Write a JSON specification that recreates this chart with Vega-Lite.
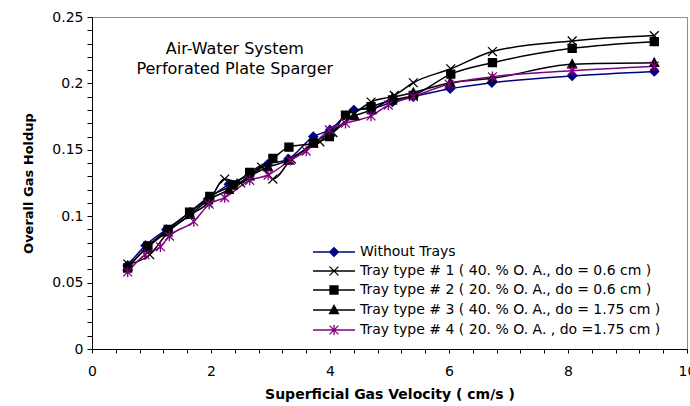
{
  "$schema": "https://vega.github.io/schema/vega-lite/v6.json",
  "width": 595,
  "height": 332,
  "autosize": {"type": "none"},
  "padding": {"left": 92, "top": 17, "right": 3, "bottom": 57},
  "background": "white",
  "config": {
    "view": {"stroke": "#8c8c8c", "strokeWidth": 1},
    "font": "DejaVu Sans",
    "axis": {"grid": false, "domainColor": "black", "tickColor": "black", "labelColor": "black", "titleColor": "black"}
  },
  "datasets": {
    "holdup": [
      {"series": "Without Trays", "v": 0.6, "g": 0.063},
      {"series": "Without Trays", "v": 0.9, "g": 0.078},
      {"series": "Without Trays", "v": 1.25, "g": 0.09},
      {"series": "Without Trays", "v": 1.65, "g": 0.103},
      {"series": "Without Trays", "v": 1.95, "g": 0.113},
      {"series": "Without Trays", "v": 2.3, "g": 0.124},
      {"series": "Without Trays", "v": 2.65, "g": 0.131},
      {"series": "Without Trays", "v": 2.95, "g": 0.139},
      {"series": "Without Trays", "v": 3.3, "g": 0.143},
      {"series": "Without Trays", "v": 3.72, "g": 0.16},
      {"series": "Without Trays", "v": 4.0, "g": 0.165},
      {"series": "Without Trays", "v": 4.4, "g": 0.18},
      {"series": "Without Trays", "v": 4.7, "g": 0.181},
      {"series": "Without Trays", "v": 5.05, "g": 0.186},
      {"series": "Without Trays", "v": 5.4, "g": 0.19},
      {"series": "Without Trays", "v": 6.02, "g": 0.196},
      {"series": "Without Trays", "v": 6.72, "g": 0.2005},
      {"series": "Without Trays", "v": 8.07, "g": 0.2056},
      {"series": "Without Trays", "v": 9.45, "g": 0.209},
      {"series": "Tray type # 1 ( 40. % O. A., do = 0.6 cm )", "v": 0.6, "g": 0.064},
      {"series": "Tray type # 1 ( 40. % O. A., do = 0.6 cm )", "v": 0.97, "g": 0.071},
      {"series": "Tray type # 1 ( 40. % O. A., do = 0.6 cm )", "v": 1.28, "g": 0.088},
      {"series": "Tray type # 1 ( 40. % O. A., do = 0.6 cm )", "v": 1.65, "g": 0.101},
      {"series": "Tray type # 1 ( 40. % O. A., do = 0.6 cm )", "v": 1.95, "g": 0.11},
      {"series": "Tray type # 1 ( 40. % O. A., do = 0.6 cm )", "v": 2.23, "g": 0.128},
      {"series": "Tray type # 1 ( 40. % O. A., do = 0.6 cm )", "v": 2.5, "g": 0.125},
      {"series": "Tray type # 1 ( 40. % O. A., do = 0.6 cm )", "v": 2.85, "g": 0.137},
      {"series": "Tray type # 1 ( 40. % O. A., do = 0.6 cm )", "v": 3.04, "g": 0.128},
      {"series": "Tray type # 1 ( 40. % O. A., do = 0.6 cm )", "v": 3.35, "g": 0.143},
      {"series": "Tray type # 1 ( 40. % O. A., do = 0.6 cm )", "v": 3.83, "g": 0.156},
      {"series": "Tray type # 1 ( 40. % O. A., do = 0.6 cm )", "v": 4.05, "g": 0.163},
      {"series": "Tray type # 1 ( 40. % O. A., do = 0.6 cm )", "v": 4.4, "g": 0.177},
      {"series": "Tray type # 1 ( 40. % O. A., do = 0.6 cm )", "v": 4.69, "g": 0.186},
      {"series": "Tray type # 1 ( 40. % O. A., do = 0.6 cm )", "v": 5.08, "g": 0.191},
      {"series": "Tray type # 1 ( 40. % O. A., do = 0.6 cm )", "v": 5.4, "g": 0.2005},
      {"series": "Tray type # 1 ( 40. % O. A., do = 0.6 cm )", "v": 6.03, "g": 0.211},
      {"series": "Tray type # 1 ( 40. % O. A., do = 0.6 cm )", "v": 6.73, "g": 0.224},
      {"series": "Tray type # 1 ( 40. % O. A., do = 0.6 cm )", "v": 8.07, "g": 0.232},
      {"series": "Tray type # 1 ( 40. % O. A., do = 0.6 cm )", "v": 9.45, "g": 0.236},
      {"series": "Tray type # 2 ( 20. % O. A., do = 0.6 cm )", "v": 0.6, "g": 0.061},
      {"series": "Tray type # 2 ( 20. % O. A., do = 0.6 cm )", "v": 0.94, "g": 0.0776},
      {"series": "Tray type # 2 ( 20. % O. A., do = 0.6 cm )", "v": 1.28, "g": 0.09},
      {"series": "Tray type # 2 ( 20. % O. A., do = 0.6 cm )", "v": 1.64, "g": 0.103},
      {"series": "Tray type # 2 ( 20. % O. A., do = 0.6 cm )", "v": 1.98, "g": 0.115},
      {"series": "Tray type # 2 ( 20. % O. A., do = 0.6 cm )", "v": 2.37, "g": 0.1235},
      {"series": "Tray type # 2 ( 20. % O. A., do = 0.6 cm )", "v": 2.65, "g": 0.133},
      {"series": "Tray type # 2 ( 20. % O. A., do = 0.6 cm )", "v": 3.04, "g": 0.1436},
      {"series": "Tray type # 2 ( 20. % O. A., do = 0.6 cm )", "v": 3.31, "g": 0.152},
      {"series": "Tray type # 2 ( 20. % O. A., do = 0.6 cm )", "v": 3.72, "g": 0.155},
      {"series": "Tray type # 2 ( 20. % O. A., do = 0.6 cm )", "v": 3.99, "g": 0.16},
      {"series": "Tray type # 2 ( 20. % O. A., do = 0.6 cm )", "v": 4.26, "g": 0.176},
      {"series": "Tray type # 2 ( 20. % O. A., do = 0.6 cm )", "v": 4.69, "g": 0.1825},
      {"series": "Tray type # 2 ( 20. % O. A., do = 0.6 cm )", "v": 5.05, "g": 0.1875},
      {"series": "Tray type # 2 ( 20. % O. A., do = 0.6 cm )", "v": 5.4, "g": 0.191},
      {"series": "Tray type # 2 ( 20. % O. A., do = 0.6 cm )", "v": 6.03, "g": 0.207},
      {"series": "Tray type # 2 ( 20. % O. A., do = 0.6 cm )", "v": 6.73, "g": 0.2156},
      {"series": "Tray type # 2 ( 20. % O. A., do = 0.6 cm )", "v": 8.07, "g": 0.2264},
      {"series": "Tray type # 2 ( 20. % O. A., do = 0.6 cm )", "v": 9.45, "g": 0.2314},
      {"series": "Tray type # 3 ( 40. % O. A., do = 1.75 cm )", "v": 0.6, "g": 0.062},
      {"series": "Tray type # 3 ( 40. % O. A., do = 1.75 cm )", "v": 0.92, "g": 0.076},
      {"series": "Tray type # 3 ( 40. % O. A., do = 1.75 cm )", "v": 1.25, "g": 0.088},
      {"series": "Tray type # 3 ( 40. % O. A., do = 1.75 cm )", "v": 1.65, "g": 0.101},
      {"series": "Tray type # 3 ( 40. % O. A., do = 1.75 cm )", "v": 1.95, "g": 0.112},
      {"series": "Tray type # 3 ( 40. % O. A., do = 1.75 cm )", "v": 2.3, "g": 0.12},
      {"series": "Tray type # 3 ( 40. % O. A., do = 1.75 cm )", "v": 2.65, "g": 0.13},
      {"series": "Tray type # 3 ( 40. % O. A., do = 1.75 cm )", "v": 2.96, "g": 0.137},
      {"series": "Tray type # 3 ( 40. % O. A., do = 1.75 cm )", "v": 3.3, "g": 0.142},
      {"series": "Tray type # 3 ( 40. % O. A., do = 1.75 cm )", "v": 3.72, "g": 0.155},
      {"series": "Tray type # 3 ( 40. % O. A., do = 1.75 cm )", "v": 4.0, "g": 0.163},
      {"series": "Tray type # 3 ( 40. % O. A., do = 1.75 cm )", "v": 4.41, "g": 0.1755},
      {"series": "Tray type # 3 ( 40. % O. A., do = 1.75 cm )", "v": 4.7, "g": 0.18},
      {"series": "Tray type # 3 ( 40. % O. A., do = 1.75 cm )", "v": 5.05, "g": 0.189},
      {"series": "Tray type # 3 ( 40. % O. A., do = 1.75 cm )", "v": 5.4, "g": 0.193},
      {"series": "Tray type # 3 ( 40. % O. A., do = 1.75 cm )", "v": 6.02, "g": 0.2005},
      {"series": "Tray type # 3 ( 40. % O. A., do = 1.75 cm )", "v": 6.73, "g": 0.2038},
      {"series": "Tray type # 3 ( 40. % O. A., do = 1.75 cm )", "v": 8.07, "g": 0.2144},
      {"series": "Tray type # 3 ( 40. % O. A., do = 1.75 cm )", "v": 9.45, "g": 0.2155},
      {"series": "Tray type # 4 ( 20. % O. A. , do =1.75 cm )", "v": 0.6, "g": 0.058},
      {"series": "Tray type # 4 ( 20. % O. A. , do =1.75 cm )", "v": 0.89, "g": 0.071},
      {"series": "Tray type # 4 ( 20. % O. A. , do =1.75 cm )", "v": 1.15, "g": 0.077},
      {"series": "Tray type # 4 ( 20. % O. A. , do =1.75 cm )", "v": 1.3, "g": 0.085},
      {"series": "Tray type # 4 ( 20. % O. A. , do =1.75 cm )", "v": 1.71, "g": 0.096},
      {"series": "Tray type # 4 ( 20. % O. A. , do =1.75 cm )", "v": 1.97, "g": 0.109},
      {"series": "Tray type # 4 ( 20. % O. A. , do =1.75 cm )", "v": 2.23, "g": 0.114},
      {"series": "Tray type # 4 ( 20. % O. A. , do =1.75 cm )", "v": 2.65, "g": 0.127},
      {"series": "Tray type # 4 ( 20. % O. A. , do =1.75 cm )", "v": 2.96, "g": 0.131},
      {"series": "Tray type # 4 ( 20. % O. A. , do =1.75 cm )", "v": 3.33, "g": 0.142},
      {"series": "Tray type # 4 ( 20. % O. A. , do =1.75 cm )", "v": 3.6, "g": 0.149},
      {"series": "Tray type # 4 ( 20. % O. A. , do =1.75 cm )", "v": 3.99, "g": 0.165},
      {"series": "Tray type # 4 ( 20. % O. A. , do =1.75 cm )", "v": 4.26, "g": 0.17},
      {"series": "Tray type # 4 ( 20. % O. A. , do =1.75 cm )", "v": 4.69, "g": 0.1755},
      {"series": "Tray type # 4 ( 20. % O. A. , do =1.75 cm )", "v": 4.98, "g": 0.1837},
      {"series": "Tray type # 4 ( 20. % O. A. , do =1.75 cm )", "v": 5.4, "g": 0.19},
      {"series": "Tray type # 4 ( 20. % O. A. , do =1.75 cm )", "v": 6.0, "g": 0.1995},
      {"series": "Tray type # 4 ( 20. % O. A. , do =1.75 cm )", "v": 6.73, "g": 0.205},
      {"series": "Tray type # 4 ( 20. % O. A. , do =1.75 cm )", "v": 8.07, "g": 0.2096},
      {"series": "Tray type # 4 ( 20. % O. A. , do =1.75 cm )", "v": 9.45, "g": 0.213}
    ]
  },
  "layer": [
    {
      "data": {"name": "holdup"},
      "mark": {"type": "line", "interpolate": "monotone", "strokeWidth": 1.5},
      "encoding": {
        "x": {"field": "v", "type": "quantitative", "scale": {"domain": [0, 10], "nice": false},
              "axis": {"values": [0, 0.4, 0.8, 1.2, 1.6, 2, 2.4, 2.8, 3.2, 3.6, 4, 4.4, 4.8, 5.2, 5.6, 6, 6.4, 6.8, 7.2, 7.6, 8, 8.4, 8.8, 9.2, 9.6, 10], "labelExpr": "abs(round(datum.value * 10) % 20) == 0 ? format(datum.value, '~g') : ''", "title": "Superficial Gas Velocity ( cm/s )", "titleFont": "DejaVu Sans", "titleFontWeight": "bold", "titleFontSize": 14, "titlePadding": 9, "labelFontSize": 14, "labelFont": "DejaVu Sans", "labelPadding": 11, "tickSize": 4, "labelFlush": false, "labelOverlap": false, "labelBound": false}},
        "y": {"field": "g", "type": "quantitative", "scale": {"domain": [0, 0.25], "nice": false},
              "axis": {"values": [0, 0.01, 0.02, 0.03, 0.04, 0.05, 0.06, 0.07, 0.08, 0.09, 0.1, 0.11, 0.12, 0.13, 0.14, 0.15, 0.16, 0.17, 0.18, 0.19, 0.2, 0.21, 0.22, 0.23, 0.24, 0.25], "labelExpr": "abs(round(datum.value * 100) % 5) == 0 ? format(datum.value, '~g') : ''", "title": "Overall Gas Holdup", "titleFont": "DejaVu Sans", "titleFontWeight": "bold", "titleFontSize": 13, "titlePadding": 16, "labelFontSize": 14, "labelFont": "DejaVu Sans", "labelPadding": 4, "tickSize": 5, "labelFlush": false, "labelOverlap": false}},
        "color": {"field": "series", "type": "nominal", "legend": null,
                  "scale": {"domain": ["Without Trays", "Tray type # 1 ( 40. % O. A., do = 0.6 cm )", "Tray type # 2 ( 20. % O. A., do = 0.6 cm )", "Tray type # 3 ( 40. % O. A., do = 1.75 cm )", "Tray type # 4 ( 20. % O. A. , do =1.75 cm )"],
                            "range": ["#000080", "#000000", "#000000", "#000000", "#800080"]}}
      }
    },
    {
      "data": {"name": "holdup"},
      "mark": {"type": "point", "size": 64, "strokeWidth": 1.3, "opacity": 1},
      "encoding": {
        "x": {"field": "v", "type": "quantitative", "scale": {"domain": [0, 10], "nice": false},
              "axis": {"values": [0, 0.4, 0.8, 1.2, 1.6, 2, 2.4, 2.8, 3.2, 3.6, 4, 4.4, 4.8, 5.2, 5.6, 6, 6.4, 6.8, 7.2, 7.6, 8, 8.4, 8.8, 9.2, 9.6, 10], "labelExpr": "abs(round(datum.value * 10) % 20) == 0 ? format(datum.value, '~g') : ''", "title": "Superficial Gas Velocity ( cm/s )", "titleFont": "DejaVu Sans", "titleFontWeight": "bold", "titleFontSize": 14, "titlePadding": 9, "labelFontSize": 14, "labelFont": "DejaVu Sans", "labelPadding": 11, "tickSize": 4, "labelFlush": false, "labelOverlap": false, "labelBound": false}},
        "y": {"field": "g", "type": "quantitative", "scale": {"domain": [0, 0.25], "nice": false},
              "axis": {"values": [0, 0.01, 0.02, 0.03, 0.04, 0.05, 0.06, 0.07, 0.08, 0.09, 0.1, 0.11, 0.12, 0.13, 0.14, 0.15, 0.16, 0.17, 0.18, 0.19, 0.2, 0.21, 0.22, 0.23, 0.24, 0.25], "labelExpr": "abs(round(datum.value * 100) % 5) == 0 ? format(datum.value, '~g') : ''", "title": "Overall Gas Holdup", "titleFont": "DejaVu Sans", "titleFontWeight": "bold", "titleFontSize": 13, "titlePadding": 16, "labelFontSize": 14, "labelFont": "DejaVu Sans", "labelPadding": 4, "tickSize": 5, "labelFlush": false, "labelOverlap": false}},
        "shape": {"field": "series", "type": "nominal", "legend": null,
                  "scale": {"domain": ["Without Trays", "Tray type # 1 ( 40. % O. A., do = 0.6 cm )", "Tray type # 2 ( 20. % O. A., do = 0.6 cm )", "Tray type # 3 ( 40. % O. A., do = 1.75 cm )", "Tray type # 4 ( 20. % O. A. , do =1.75 cm )"],
                            "range": ["M0,-1.1L1.1,0L0,1.1L-1.1,0Z", "M-1.1,-1.1L1.1,1.1M-1.1,1.1L1.1,-1.1", "M-1,-1H1V1H-1Z", "M0,-1.15L1.1,0.9H-1.1Z", "M-1.1,-1.1L1.1,1.1M-1.1,1.1L1.1,-1.1M0,-1.3V1.3"]}},
        "fill": {"field": "series", "type": "nominal", "legend": null,
                 "scale": {"domain": ["Without Trays", "Tray type # 1 ( 40. % O. A., do = 0.6 cm )", "Tray type # 2 ( 20. % O. A., do = 0.6 cm )", "Tray type # 3 ( 40. % O. A., do = 1.75 cm )", "Tray type # 4 ( 20. % O. A. , do =1.75 cm )"],
                           "range": ["#000080", "transparent", "#000000", "#000000", "transparent"]}},
        "stroke": {"field": "series", "type": "nominal", "legend": null,
                   "scale": {"domain": ["Without Trays", "Tray type # 1 ( 40. % O. A., do = 0.6 cm )", "Tray type # 2 ( 20. % O. A., do = 0.6 cm )", "Tray type # 3 ( 40. % O. A., do = 1.75 cm )", "Tray type # 4 ( 20. % O. A. , do =1.75 cm )"],
                             "range": ["#000080", "#000000", "#000000", "#000000", "#800080"]}}
      }
    },
    {
      "data": {"name": "holdup"},
      "mark": {"type": "point", "size": 64, "strokeWidth": 1.3, "opacity": 0},
      "encoding": {
        "x": {"field": "v", "type": "quantitative", "scale": {"domain": [0, 10], "nice": false},
              "axis": {"values": [0, 0.4, 0.8, 1.2, 1.6, 2, 2.4, 2.8, 3.2, 3.6, 4, 4.4, 4.8, 5.2, 5.6, 6, 6.4, 6.8, 7.2, 7.6, 8, 8.4, 8.8, 9.2, 9.6, 10], "labelExpr": "abs(round(datum.value * 10) % 20) == 0 ? format(datum.value, '~g') : ''", "title": "Superficial Gas Velocity ( cm/s )", "titleFont": "DejaVu Sans", "titleFontWeight": "bold", "titleFontSize": 14, "titlePadding": 9, "labelFontSize": 14, "labelFont": "DejaVu Sans", "labelPadding": 11, "tickSize": 4, "labelFlush": false, "labelOverlap": false, "labelBound": false}},
        "y": {"field": "g", "type": "quantitative", "scale": {"domain": [0, 0.25], "nice": false},
              "axis": {"values": [0, 0.01, 0.02, 0.03, 0.04, 0.05, 0.06, 0.07, 0.08, 0.09, 0.1, 0.11, 0.12, 0.13, 0.14, 0.15, 0.16, 0.17, 0.18, 0.19, 0.2, 0.21, 0.22, 0.23, 0.24, 0.25], "labelExpr": "abs(round(datum.value * 100) % 5) == 0 ? format(datum.value, '~g') : ''", "title": "Overall Gas Holdup", "titleFont": "DejaVu Sans", "titleFontWeight": "bold", "titleFontSize": 13, "titlePadding": 16, "labelFontSize": 14, "labelFont": "DejaVu Sans", "labelPadding": 4, "tickSize": 5, "labelFlush": false, "labelOverlap": false}},
        "shape": {"field": "series", "type": "nominal",
                  "scale": {"domain": ["Without Trays", "Tray type # 1 ( 40. % O. A., do = 0.6 cm )", "Tray type # 2 ( 20. % O. A., do = 0.6 cm )", "Tray type # 3 ( 40. % O. A., do = 1.75 cm )", "Tray type # 4 ( 20. % O. A. , do =1.75 cm )"],
                            "range": ["M-5.25,0H5.25M0,-1.1L1.1,0L0,1.1L-1.1,0Z", "M-5.25,0H5.25M-1.1,-1.1L1.1,1.1M-1.1,1.1L1.1,-1.1", "M-5.25,0H5.25M-1,-1H1V1H-1Z", "M-5.25,0H5.25M0,-1.15L1.1,0.9H-1.1Z", "M-5.25,0H5.25M-1.1,-1.1L1.1,1.1M-1.1,1.1L1.1,-1.1M0,-1.3V1.3"]},
                  "legend": {"title": null, "orient": "none", "legendX": 235, "legendY": 228, "padding": 0, "symbolSize": 64, "symbolOpacity": 1, "symbolStrokeWidth": 1.3, "labelFont": "DejaVu Sans", "labelFontSize": 14, "labelColor": "black", "labelOffset": 19, "labelLimit": 400, "rowPadding": 5}},
        "fill": {"field": "series", "type": "nominal",
                 "scale": {"domain": ["Without Trays", "Tray type # 1 ( 40. % O. A., do = 0.6 cm )", "Tray type # 2 ( 20. % O. A., do = 0.6 cm )", "Tray type # 3 ( 40. % O. A., do = 1.75 cm )", "Tray type # 4 ( 20. % O. A. , do =1.75 cm )"],
                           "range": ["#000080", "transparent", "#000000", "#000000", "transparent"]},
                 "legend": {"title": null, "orient": "none", "legendX": 235, "legendY": 228, "padding": 0, "symbolSize": 64, "symbolOpacity": 1, "symbolStrokeWidth": 1.3, "labelFont": "DejaVu Sans", "labelFontSize": 14, "labelColor": "black", "labelOffset": 19, "labelLimit": 400, "rowPadding": 5}},
        "stroke": {"field": "series", "type": "nominal",
                   "scale": {"domain": ["Without Trays", "Tray type # 1 ( 40. % O. A., do = 0.6 cm )", "Tray type # 2 ( 20. % O. A., do = 0.6 cm )", "Tray type # 3 ( 40. % O. A., do = 1.75 cm )", "Tray type # 4 ( 20. % O. A. , do =1.75 cm )"],
                             "range": ["#000080", "#000000", "#000000", "#000000", "#800080"]},
                   "legend": {"title": null, "orient": "none", "legendX": 235, "legendY": 228, "padding": 0, "symbolSize": 64, "symbolOpacity": 1, "symbolStrokeWidth": 1.3, "labelFont": "DejaVu Sans", "labelFontSize": 14, "labelColor": "black", "labelOffset": 19, "labelLimit": 400, "rowPadding": 5}}
      }
    },
    {
      "data": {"values": [{}]},
      "mark": {"type": "text", "text": ["Air-Water System", "Perforated Plate Sparger"], "font": "DejaVu Sans", "fontSize": 16, "lineHeight": 20, "align": "center", "baseline": "middle", "color": "black"},
      "encoding": {
        "x": {"datum": 2.4, "type": "quantitative", "scale": {"domain": [0, 10], "nice": false},
              "axis": {"values": [0, 0.4, 0.8, 1.2, 1.6, 2, 2.4, 2.8, 3.2, 3.6, 4, 4.4, 4.8, 5.2, 5.6, 6, 6.4, 6.8, 7.2, 7.6, 8, 8.4, 8.8, 9.2, 9.6, 10], "labelExpr": "abs(round(datum.value * 10) % 20) == 0 ? format(datum.value, '~g') : ''", "title": "Superficial Gas Velocity ( cm/s )", "titleFont": "DejaVu Sans", "titleFontWeight": "bold", "titleFontSize": 14, "titlePadding": 9, "labelFontSize": 14, "labelFont": "DejaVu Sans", "labelPadding": 11, "tickSize": 4, "labelFlush": false, "labelOverlap": false, "labelBound": false}},
        "y": {"datum": 0.2256, "type": "quantitative", "scale": {"domain": [0, 0.25], "nice": false},
              "axis": {"values": [0, 0.01, 0.02, 0.03, 0.04, 0.05, 0.06, 0.07, 0.08, 0.09, 0.1, 0.11, 0.12, 0.13, 0.14, 0.15, 0.16, 0.17, 0.18, 0.19, 0.2, 0.21, 0.22, 0.23, 0.24, 0.25], "labelExpr": "abs(round(datum.value * 100) % 5) == 0 ? format(datum.value, '~g') : ''", "title": "Overall Gas Holdup", "titleFont": "DejaVu Sans", "titleFontWeight": "bold", "titleFontSize": 13, "titlePadding": 16, "labelFontSize": 14, "labelFont": "DejaVu Sans", "labelPadding": 4, "tickSize": 5, "labelFlush": false, "labelOverlap": false}}
      }
    }
  ],
  "resolve": {"scale": {"shape": "independent", "fill": "independent", "stroke": "independent"}}
}
